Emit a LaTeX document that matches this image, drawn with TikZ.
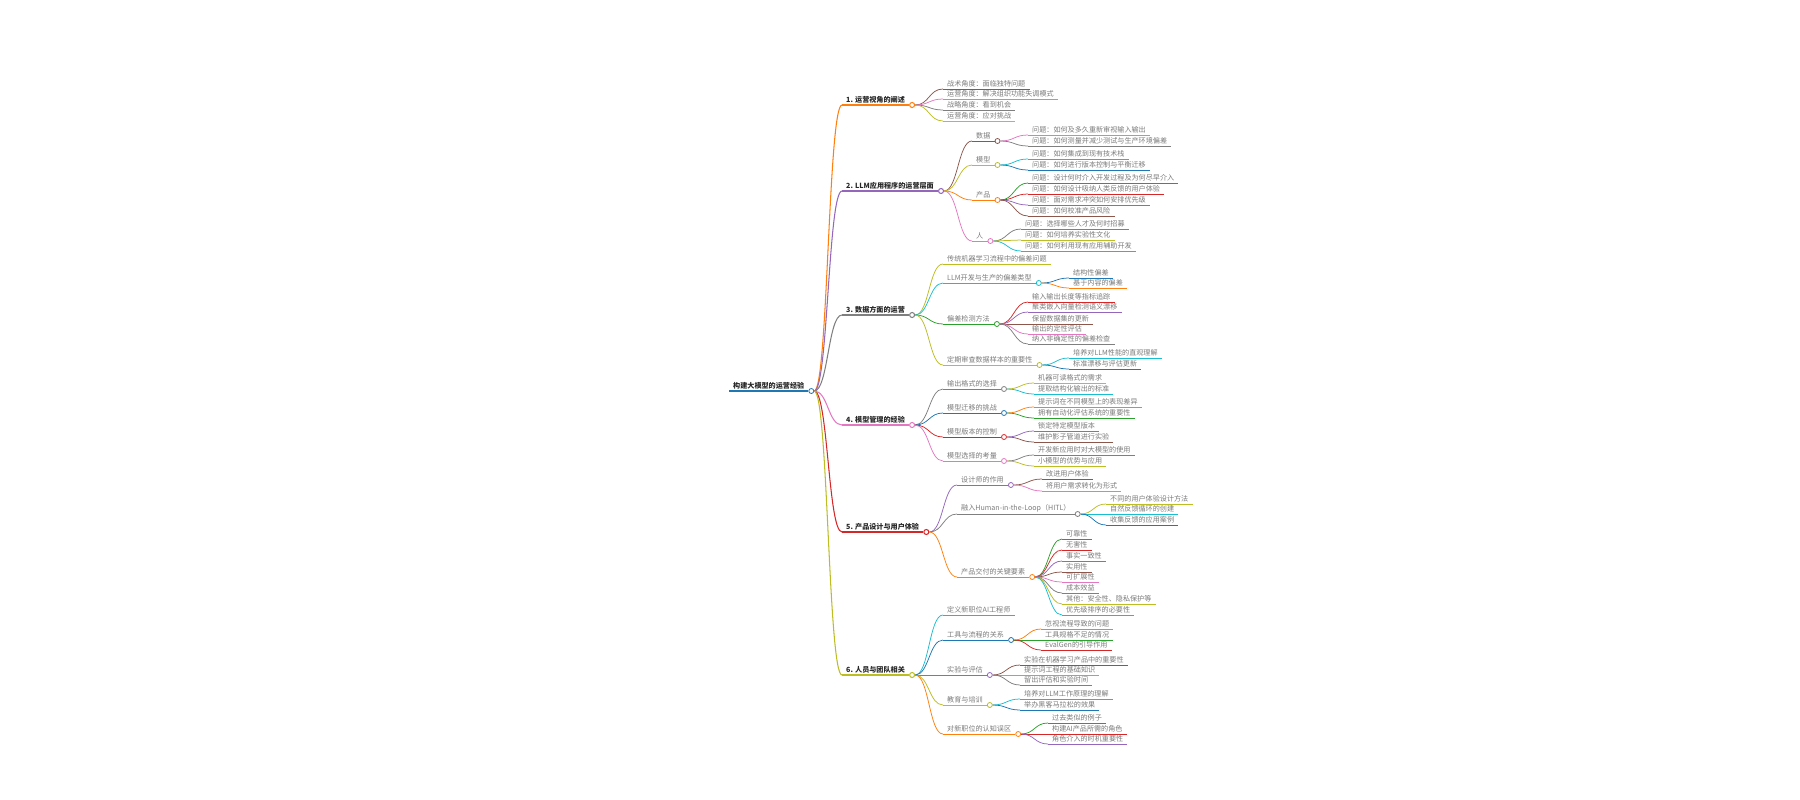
\documentclass[tikz,border=0pt]{standalone}
\usepackage{fontspec}
\setmainfont{Noto Sans CJK SC}
\usetikzlibrary{calc}

\definecolor{mmblue}{HTML}{1F77B4}
\definecolor{mmorange}{HTML}{FF7F0E}
\definecolor{mmgreen}{HTML}{2CA02C}
\definecolor{mmred}{HTML}{D62728}
\definecolor{mmpurple}{HTML}{9467BD}
\definecolor{mmbrown}{HTML}{8C564B}
\definecolor{mmpink}{HTML}{E377C2}
\definecolor{mmgrey}{HTML}{7F7F7F}
\definecolor{mmolive}{HTML}{BCBD22}
\definecolor{mmcyan}{HTML}{17BECF}

\tikzset{
  mmtext/.style={inner xsep=4pt,inner ysep=1.4pt,font=\fontsize{7.1}{8}\selectfont,text=black!52},
  mmtitle/.style={mmtext,font=\fontsize{7.1}{8}\selectfont\bfseries,text=black!85},
  mmline/.style={line width=.75pt},
  mmdot/.style={circle,fill=white,line width=.8pt,inner sep=0pt,minimum size=5pt},
  mmcurve/.style={to path={let \p1=(\tikztostart),\p2=(\tikztotarget) in
    .. controls ({(\x1+\x2)/2},\y1) and ({(\x1+\x2)/2},\y2) .. (\tikztotarget)}}
}

% style, parent, name, text x, line y, colour, text
\newcommand{\mmleaf}[7][mmtext]{%
  \node[#1,anchor=south west] (#3) at (#4-4,#5) {#7};
  \draw[mmline,color=#6] (#3.south west) -- (#3.south east);
  \draw[mmline,color=#6] (#2o.east) to[mmcurve] (#3.south west);}
\newcommand{\mmfork}[7][mmtext]{%
  \mmleaf[#1]{#2}{#3}{#4}{#5}{#6}{#7}
  \node[mmdot,draw=#6,anchor=west] (#3o) at (#3.south east) {};}

\begin{document}
\begin{tikzpicture}[x=1pt,y=-1pt]
\useasboundingbox (0,0) rectangle (1800,800);

\node[mmtitle,anchor=south west] (root) at (729,391) {构建大模型的运营经验};
\draw[mmline,mmblue,line width=1.1pt] (root.south west) -- (root.south east);
\node[mmdot,draw=mmblue,anchor=west] (rooto) at (root.south east) {};

\mmfork[mmtitle]{root}{view}{846}{105}{mmorange,line width=1.05pt}{1. 运营视角的阐述}
\mmfork[mmtitle]{root}{app}{846}{191}{mmpurple,line width=1.05pt}{2. LLM应用程序的运营层面}
\mmfork[mmtitle]{root}{data}{846}{315}{mmgrey,line width=1.05pt}{3. 数据方面的运营}
\mmfork[mmtitle]{root}{model}{846}{425}{mmpink,line width=1.05pt}{4. 模型管理的经验}
\mmfork[mmtitle]{root}{ux}{846}{532}{mmred,line width=1.05pt}{5. 产品设计与用户体验}
\mmfork[mmtitle]{root}{team}{846}{675}{mmolive,line width=1.05pt}{6. 人员与团队相关}

\mmleaf{view}{view1}{947}{89}{mmbrown}{战术角度：面临独特问题}
\mmleaf{view}{view2}{947}{99}{mmpink}{运营角度：解决组织功能失调模式}
\mmleaf{view}{view3}{947}{110}{mmgrey}{战略角度：看到机会}
\mmleaf{view}{view4}{947}{121}{mmolive}{运营角度：应对挑战}

\mmfork{app}{appdata}{976}{141}{mmbrown}{数据}
\mmfork{app}{appmodel}{976}{165}{mmolive}{模型}
\mmfork{app}{appprod}{976}{200}{mmorange}{产品}
\mmfork{app}{appteam}{976}{241}{mmpink}{人}
\mmleaf{appdata}{appdata1}{1032}{135}{mmpink}{问题：如何及多久重新审视输入输出}
\mmleaf{appdata}{appdata2}{1032}{146}{mmgrey}{问题：如何测量并减少测试与生产环境偏差}
\mmleaf{appmodel}{appmodel1}{1032}{159}{mmcyan}{问题：如何集成到现有技术栈}
\mmleaf{appmodel}{appmodel2}{1032}{170}{mmblue}{问题：如何进行版本控制与平衡迁移}
\mmleaf{appprod}{appprod1}{1032}{183}{mmgreen}{问题：设计何时介入开发过程及为何尽早介入}
\mmleaf{appprod}{appprod2}{1032}{194}{mmred}{问题：如何设计吸纳人类反馈的用户体验}
\mmleaf{appprod}{appprod3}{1032}{205}{mmpurple}{问题：面对需求冲突如何安排优先级}
\mmleaf{appprod}{appprod4}{1032}{216}{mmbrown}{问题：如何校准产品风险}
\mmleaf{appteam}{appteam1}{1025}{229}{mmgrey}{问题：选择哪些人才及何时招募}
\mmleaf{appteam}{appteam2}{1025}{240}{mmolive}{问题：如何培养实验性文化}
\mmleaf{appteam}{appteam3}{1025}{251}{mmcyan}{问题：如何利用现有应用辅助开发}

\mmleaf{data}{datamlops}{947}{264}{mmolive}{传统机器学习流程中的偏差问题}
\mmfork{data}{dataskew}{947}{283}{mmcyan}{LLM开发与生产的偏差类型}
\mmfork{data}{datadetect}{947}{324}{mmgreen}{偏差检测方法}
\mmfork{data}{datareview}{947}{365}{mmolive}{定期审查数据样本的重要性}
\mmleaf{dataskew}{dataskew1}{1073}{278}{mmblue}{结构性偏差}
\mmleaf{dataskew}{dataskew2}{1073}{288}{mmorange}{基于内容的偏差}
\mmleaf{datadetect}{datadetect1}{1032}{302}{mmred}{输入输出长度等指标追踪}
\mmleaf{datadetect}{datadetect2}{1032}{312}{mmpurple}{聚类嵌入向量检测语义漂移}
\mmleaf{datadetect}{datadetect3}{1032}{324}{mmbrown}{保留数据集的更新}
\mmleaf{datadetect}{datadetect4}{1032}{334}{mmpink}{输出的定性评估}
\mmleaf{datadetect}{datadetect5}{1032}{344}{mmgrey}{纳入非确定性的偏差检查}
\mmleaf{datareview}{datareview1}{1073}{358}{mmcyan}{培养对LLM性能的直观理解}
\mmleaf{datareview}{datareview2}{1073}{369}{mmblue}{标准漂移与评估更新}

\mmfork{model}{modelformat}{947}{389}{mmgrey}{输出格式的选择}
\mmfork{model}{modelmigrate}{947}{413}{mmblue}{模型迁移的挑战}
\mmfork{model}{modelversion}{947}{437}{mmred}{模型版本的控制}
\mmfork{model}{modelchoice}{947}{461}{mmpink}{模型选择的考量}
\mmleaf{modelformat}{modelformat1}{1038}{383}{mmolive}{机器可读格式的需求}
\mmleaf{modelformat}{modelformat2}{1038}{394}{mmcyan}{提取结构化输出的标准}
\mmleaf{modelmigrate}{modelmigrate1}{1038}{407}{mmorange}{提示词在不同模型上的表现差异}
\mmleaf{modelmigrate}{modelmigrate2}{1038}{418}{mmgreen}{拥有自动化评估系统的重要性}
\mmleaf{modelversion}{modelversion1}{1038}{431}{mmpurple}{锁定特定模型版本}
\mmleaf{modelversion}{modelversion2}{1038}{442}{mmbrown}{维护影子管道进行实验}
\mmleaf{modelchoice}{modelchoice1}{1038}{455}{mmgrey}{开发新应用时对大模型的使用}
\mmleaf{modelchoice}{modelchoice2}{1038}{466}{mmolive}{小模型的优势与应用}

\mmfork{ux}{uxdesign}{961}{485}{mmpurple}{设计师的作用}
\mmfork{ux}{uxhitl}{961}{514}{mmgrey}{融入Human-in-the-Loop（HITL）}
\mmfork{ux}{uxship}{961}{577}{mmorange}{产品交付的关键要素}
\mmleaf{uxdesign}{uxdesign1}{1046}{479}{mmbrown}{改进用户体验}
\mmleaf{uxdesign}{uxdesign2}{1046}{491}{mmpink}{将用户需求转化为形式}
\mmleaf{uxhitl}{uxhitl1}{1110}{504}{mmolive}{不同的用户体验设计方法}
\mmleaf{uxhitl}{uxhitl2}{1110}{514}{mmcyan}{自然反馈循环的创建}
\mmleaf{uxhitl}{uxhitl3}{1110}{525}{mmblue}{收集反馈的应用案例}
\mmleaf{uxship}{uxship1}{1066}{539}{mmgreen}{可靠性}
\mmleaf{uxship}{uxship2}{1066}{550}{mmred}{无害性}
\mmleaf{uxship}{uxship3}{1066}{561}{mmpurple}{事实一致性}
\mmleaf{uxship}{uxship4}{1066}{572}{mmbrown}{实用性}
\mmleaf{uxship}{uxship5}{1066}{582}{mmpink}{可扩展性}
\mmleaf{uxship}{uxship6}{1066}{593}{mmgrey}{成本效益}
\mmleaf{uxship}{uxship7}{1066}{604}{mmolive}{其他：安全性、隐私保护等}
\mmleaf{uxship}{uxship8}{1066}{615}{mmcyan}{优先级排序的必要性}

\mmleaf{team}{teamrole}{947}{615}{mmcyan}{定义新职位AI工程师}
\mmfork{team}{teamtool}{947}{640}{mmblue}{工具与流程的关系}
\mmfork{team}{teamexp}{947}{675}{mmpurple}{实验与评估}
\mmfork{team}{teamedu}{947}{705}{mmolive}{教育与培训}
\mmfork{team}{teammyth}{947}{734}{mmorange}{对新职位的认知误区}
\mmleaf{teamtool}{teamtool1}{1045}{629}{mmorange}{忽视流程导致的问题}
\mmleaf{teamtool}{teamtool2}{1045}{640}{mmgreen}{工具规格不足的情况}
\mmleaf{teamtool}{teamtool3}{1045}{650}{mmred}{EvalGen的引导作用}
\mmleaf{teamexp}{teamexp1}{1024}{665}{mmbrown}{实验在机器学习产品中的重要性}
\mmleaf{teamexp}{teamexp2}{1024}{675}{mmpink}{提示词工程的基础知识}
\mmleaf{teamexp}{teamexp3}{1024}{685}{mmgrey}{留出评估和实验时间}
\mmleaf{teamedu}{teamedu1}{1024}{699}{mmcyan}{培养对LLM工作原理的理解}
\mmleaf{teamedu}{teamedu2}{1024}{710}{mmblue}{举办黑客马拉松的效果}
\mmleaf{teammyth}{teammyth1}{1052}{723}{mmgreen}{过去类似的例子}
\mmleaf{teammyth}{teammyth2}{1052}{734}{mmred}{构建AI产品所需的角色}
\mmleaf{teammyth}{teammyth3}{1052}{744}{mmpurple}{角色介入的时机重要性}
\end{tikzpicture}
\end{document}
